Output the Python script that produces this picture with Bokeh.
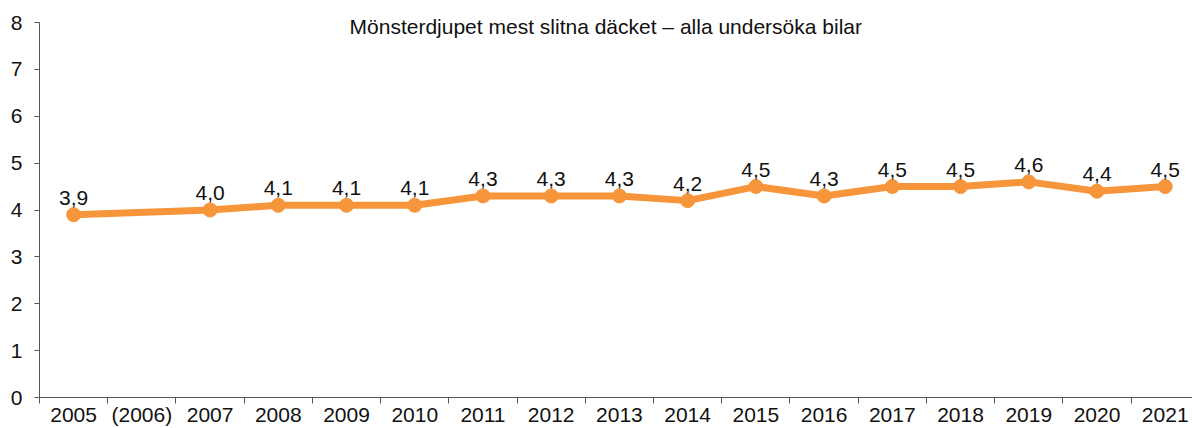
from bokeh.plotting import figure
from bokeh.models import Range1d, FixedTicker, Label, ColumnDataSource
from bokeh.core.properties import value
from bokeh.embed import file_html
from bokeh.resources import INLINE

categories = ["2005", "(2006)", "2007", "2008", "2009", "2010", "2011", "2012", "2013",
              "2014", "2015", "2016", "2017", "2018", "2019", "2020", "2021"]
values = [3.9, None, 4.0, 4.1, 4.1, 4.1, 4.3, 4.3, 4.3, 4.2, 4.5, 4.3, 4.5, 4.5, 4.6, 4.4, 4.5]
y_ticks = [0, 1, 2, 3, 4, 5, 6, 7, 8]
title_text = "Mönsterdjupet mest slitna däcket – alla undersöka bilar"

FONT = "Liberation Sans"
ORANGE = "#F7953B"
TXT = "#111111"

xs = [i for i, v in enumerate(values) if v is not None]
ys = [v for v in values if v is not None]
labels = [f"{v:.1f}".replace(".", ",") for v in ys]
src = ColumnDataSource(dict(x=xs, y=ys, label=labels))

y_min, y_max = y_ticks[0], y_ticks[-1]

p = figure(width=1192, height=428, x_range=Range1d(-0.5, 16.4), y_range=Range1d(y_min, 8.384),
           output_backend="svg", toolbar_location=None,
           min_border_left=39, min_border_right=0, min_border_top=4, min_border_bottom=31)
p.outline_line_color = None
p.grid.grid_line_color = None
p.background_fill_color = "white"
p.border_fill_color = "white"

p.line("x", "y", source=src, line_color=ORANGE, line_width=7)
p.scatter("x", "y", source=src, size=14, fill_color=ORANGE, line_color=ORANGE)
p.text("x", "y", text="label", source=src, text_align="center", text_baseline="middle",
       y_offset=-17, text_font_size="21px", text_color=TXT, text_font=value(FONT))

centers = list(range(len(categories)))
bounds = [i - 0.5 for i in range(len(categories) + 1)]
p.xaxis.ticker = FixedTicker(ticks=centers, minor_ticks=bounds)
p.xaxis.major_label_overrides = {i: c for i, c in enumerate(categories)}
p.xaxis.major_tick_out = 0
p.xaxis.major_tick_in = 0
p.xaxis.minor_tick_out = 6
p.xaxis.minor_tick_in = 0
p.xaxis.major_label_standoff = -1

p.yaxis.ticker = FixedTicker(ticks=y_ticks)
p.yaxis.bounds = (y_min, y_max)
p.yaxis.major_tick_out = 5
p.yaxis.major_tick_in = 0
p.yaxis.minor_tick_out = 0
p.yaxis.minor_tick_in = 0
p.yaxis.major_label_standoff = 12

for ax in (p.xaxis, p.yaxis):
    ax.axis_line_color = "#555555"
    ax.major_tick_line_color = "#555555"
    ax.minor_tick_line_color = "#555555"
    ax.major_label_text_font = FONT
    ax.major_label_text_font_size = "21px"
    ax.major_label_text_color = TXT

p.add_layout(Label(x=7.8, y=7.925, text=title_text, text_align="center", text_baseline="middle",
                   text_font=FONT, text_font_size="21px", text_color=TXT))

open("out.html", "w").write(file_html(p, INLINE))
